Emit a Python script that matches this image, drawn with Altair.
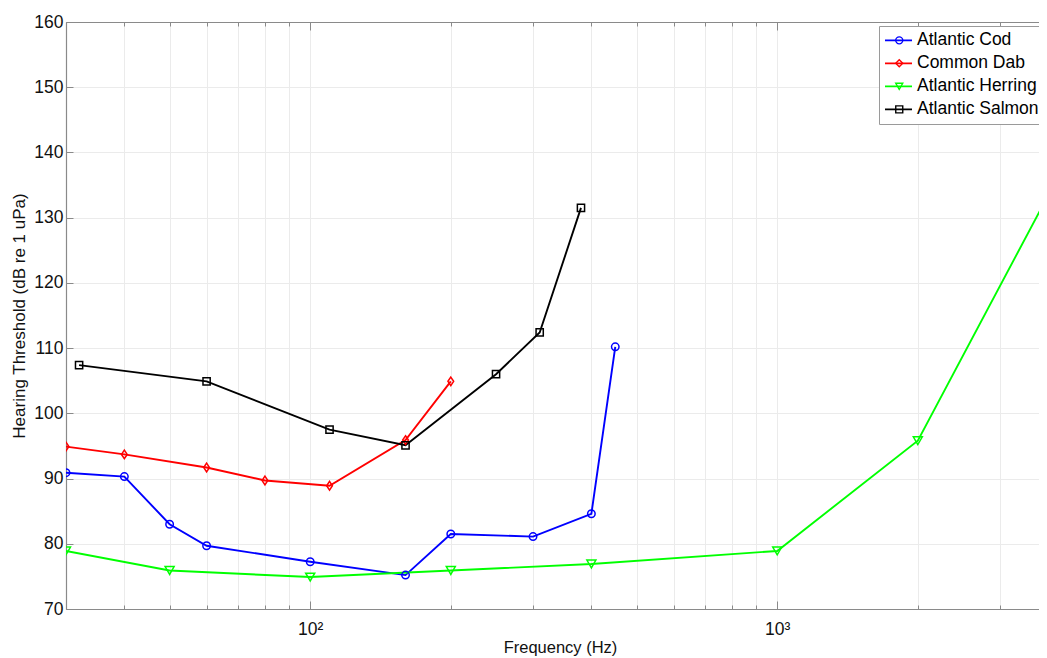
import altair as alt
import pandas as pd

species = ["Atlantic Cod", "Common Dab", "Atlantic Herring", "Atlantic Salmon"]
colors = ["#0000ff", "#ff0000", "#00ff00", "#000000"]

cod_f = [30, 40, 50, 60, 100, 160, 200, 300, 400, 450]
cod_db = [90.9, 90.3, 83.0, 79.7, 77.25, 75.2, 81.5, 81.1, 84.6, 110.2]
dab_f = [30, 40, 60, 80, 110, 160, 200]
dab_db = [94.9, 93.7, 91.7, 89.7, 88.9, 95.9, 104.9]
herring_f = [30, 50, 100, 200, 400, 1000, 2000, 4000]
herring_db = [78.9, 75.9, 74.9, 75.9, 76.9, 78.9, 95.8, 136.4]
salmon_f = [32, 60, 110, 160, 250, 310, 380]
salmon_db = [107.4, 104.9, 97.5, 95.1, 106.0, 112.4, 131.5]

x_ticks = [30, 40, 50, 60, 70, 80, 90, 100, 200, 300, 400, 500, 600, 700, 800, 900,
           1000, 2000, 3000]
y_ticks = [70, 80, 90, 100, 110, 120, 130, 140, 150, 160]

rows = []
for sp, fs, ds in zip(species, [cod_f, dab_f, herring_f, salmon_f],
                      [cod_db, dab_db, herring_db, salmon_db]):
    for f, d in zip(fs, ds):
        rows.append({"species": sp, "line_key": sp + " ", "freq": f, "db": d})
df = pd.DataFrame(rows)

FONT = "Liberation Sans, Arial, Helvetica, sans-serif"
AXC = "#8a8a8a"
GRID = "#ebebeb"
W, H = 973, 587

xscale = alt.Scale(type="log", domain=[30, 3635], nice=False)
yscale = alt.Scale(domain=[70, 160], nice=False)

major_cond = {"condition": {"test": "datum.value == 100 || datum.value == 1000", "value": 8}, "value": 4}

axA = alt.Axis(orient="bottom", values=x_ticks, grid=True, gridColor=GRID, gridWidth=1,
               ticks=False, domain=True, domainColor=AXC, domainWidth=1.2,
               labelExpr="datum.value == 100 ? '10²' : (datum.value == 1000 ? '10³' : '')",
               labelOverlap=False, labelFlush=False, labelFont=FONT, labelFontSize=17.5,
               labelColor="#111", labelPadding=11,
               title="Frequency (Hz)", titleFont=FONT, titleFontSize=16.5,
               titleFontWeight="normal", titleColor="#111", titlePadding=2, titleX=494)
axYA = alt.Axis(orient="left", values=y_ticks, grid=True, gridColor=GRID, gridWidth=1,
                ticks=False, domain=True, domainColor=AXC, domainWidth=1.2,
                labelFont=FONT, labelFontSize=17.5, labelColor="#111", labelPadding=3,
                title="Hearing Threshold (dB re 1 uPa)", titleFont=FONT, titleFontSize=17,
                titleFontWeight="normal", titleColor="#111", titlePadding=5)
axB = alt.Axis(orient="top", offset=-H, values=x_ticks, grid=False, labels=False,
               domain=False, ticks=True, tickColor=AXC, tickSize=major_cond, title=None)
axYB = alt.Axis(orient="right", offset=-W, values=y_ticks, grid=False, labels=False,
                domain=False, ticks=True, tickColor=AXC, tickSize=7, title=None)
axC = alt.Axis(orient="bottom", offset=-H, values=x_ticks, grid=False, labels=False,
               domain=True, domainColor=AXC, domainWidth=1.2, ticks=True, tickColor=AXC,
               tickSize=major_cond, title=None)

base = alt.Chart(df)

marker_shapes = {
    "Atlantic Cod": ("circle", 56),
    "Common Dab": ("M0,-1.2L0.8,0L0,1.2L-0.8,0Z", 52),
    "Atlantic Herring": ("triangle-down", 81),
    "Atlantic Salmon": ("square", 52),
}

layers = []
for i, (sp, col) in enumerate(zip(species, colors)):
    sub = base.transform_filter(alt.datum.species == sp)
    layers.append(sub.mark_line(strokeWidth=1.9, clip=True, color=col).encode(
        x=alt.X("freq:Q", scale=xscale, axis=axA if i == 0 else None),
        y=alt.Y("db:Q", scale=yscale, axis=axYA if i == 0 else None),
    ))
for i, (sp, col) in enumerate(zip(species, colors)):
    shp, sz = marker_shapes[sp]
    sub = base.transform_filter(alt.datum.species == sp)
    layers.append(sub.mark_point(shape=shp, size=sz, filled=False, strokeWidth=1.5,
                                 opacity=1, clip=True, color=col).encode(
        x=alt.X("freq:Q", scale=xscale, axis=axC if i == 0 else None),
        y=alt.Y("db:Q", scale=yscale, axis=None),
    ))

LX, LY = 813, 4
# legend: a line-style legend with the box and the labels ...
leg_lines = alt.Legend(orient="none", legendX=LX, legendY=LY, title=None, padding=4,
                       rowPadding=2, clipHeight=20.7, symbolSize=729, symbolOffset=1,
                       symbolStrokeWidth=1.8, labelOffset=4, labelFont=FONT,
                       labelFontSize=17.5, labelColor="#000", labelLimit=400,
                       strokeColor="#9a9a9a", fillColor="#ffffff", zindex=1)
# ... and a marker legend (no labels) laid exactly on top of it
leg_marks = alt.Legend(orient="none", legendX=LX, legendY=LY, title=None, padding=4,
                       rowPadding=2, clipHeight=20.7, symbolSize=49, symbolOffset=7.5,
                       symbolStrokeWidth=1.4, labelOffset=4, labelFont=FONT,
                       labelFontSize=17.5, labelExpr="''", zindex=2)

line_legend_layer = base.transform_calculate(hidden="1000").mark_line(
    strokeWidth=1.8, clip=True
).encode(
    x=alt.X("freq:Q", scale=xscale, axis=axB),
    y=alt.Y("hidden:Q", scale=yscale, axis=axYB),
    color=alt.Color("line_key:N", scale=alt.Scale(domain=[s + " " for s in species], range=colors),
                    legend=leg_lines),
)
marker_legend_layer = base.transform_calculate(hidden="1000").mark_point(
    filled=False, opacity=1, strokeWidth=1.4, clip=True
).encode(
    x=alt.X("freq:Q", scale=xscale, axis=None),
    y=alt.Y("hidden:Q", scale=yscale, axis=None),
    stroke=alt.Stroke("species:N", scale=alt.Scale(domain=species, range=colors), legend=leg_marks),
    shape=alt.Shape("species:N", scale=alt.Scale(domain=species,
                    range=["circle", "diamond", "triangle-down", "square"]), legend=leg_marks),
)
layers += [line_legend_layer, marker_legend_layer]

chart = alt.layer(*layers).resolve_axis(
    x="independent", y="independent"
).properties(
    width=W, height=H,
    padding={"left": 58, "top": 14, "right": 0, "bottom": 48},
    autosize=alt.AutoSizeParams(type="none"),
    background="white",
).configure_view(stroke=None)

chart.save("out.html", embed_options={"renderer": "svg", "actions": False})
